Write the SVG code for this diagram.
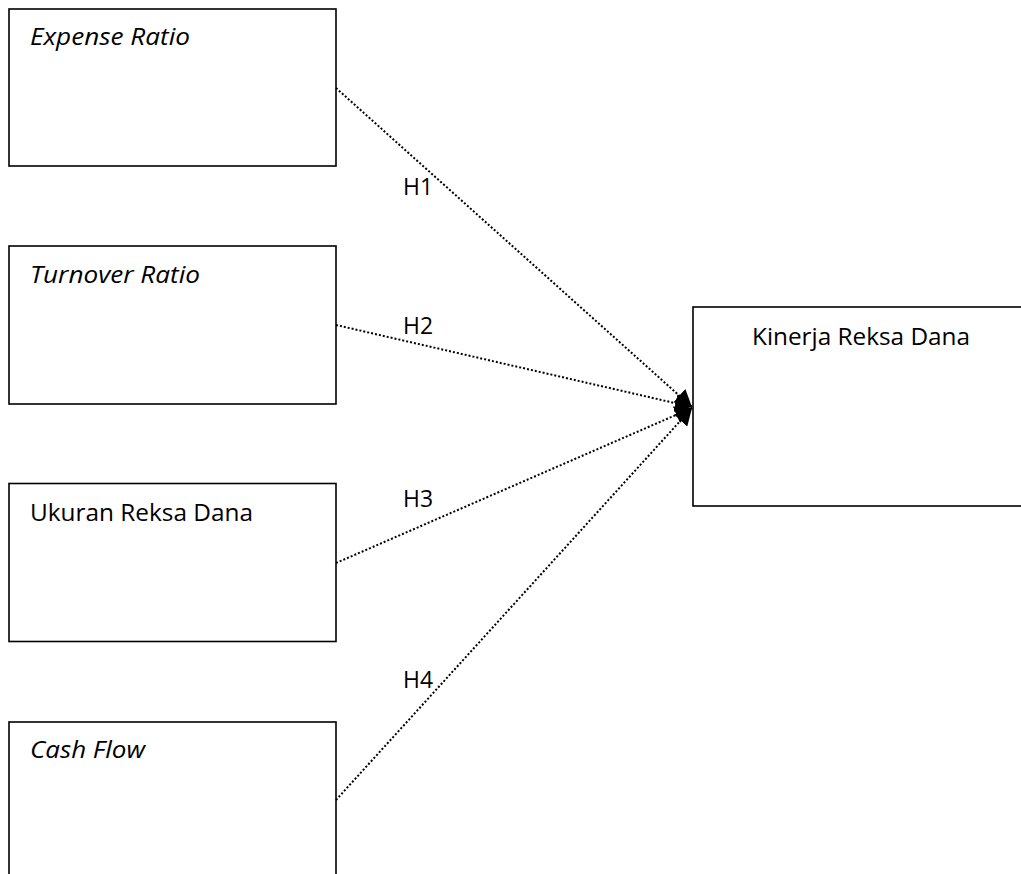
<svg xmlns="http://www.w3.org/2000/svg" width="1021" height="874" viewBox="0 0 1021 874">
<style>
.box{fill:#fff;stroke:#000;stroke-width:1.6}
.t{font-family:"Open Sans","Liberation Sans",sans-serif;font-size:24px;fill:#000}
.i{font-style:italic}
.c{fill:none;stroke:#000;stroke-width:2;stroke-dasharray:2 2}
</style>
<defs>
<marker id="ah" markerUnits="userSpaceOnUse" markerWidth="20" markerHeight="18" refX="17" refY="9" orient="auto">
<path d="M0,0 L17,9 L0,18 Z" fill="#000"/>
</marker>
</defs>
<rect width="1021" height="874" fill="#fff"/>
<g id="node-expense">
<rect class="box" x="9" y="9" width="327" height="157"/>
<text class="t i" x="30" y="45" textLength="160" lengthAdjust="spacingAndGlyphs">Expense Ratio</text>
</g>
<g id="node-turnover">
<rect class="box" x="9" y="246" width="327" height="158"/>
<text class="t i" x="30" y="283" textLength="170" lengthAdjust="spacingAndGlyphs">Turnover Ratio</text>
</g>
<g id="node-ukuran">
<rect class="box" x="9" y="483.5" width="327" height="158"/>
<text class="t" x="30" y="521" textLength="223" lengthAdjust="spacingAndGlyphs">Ukuran Reksa Dana</text>
</g>
<g id="node-cashflow">
<rect class="box" x="9" y="722" width="327" height="200"/>
<text class="t i" x="30" y="758" textLength="115" lengthAdjust="spacingAndGlyphs">Cash Flow</text>
</g>
<g id="node-kinerja">
<rect class="box" x="693" y="307" width="340" height="199"/>
<text class="t" x="752" y="345" textLength="218" lengthAdjust="spacingAndGlyphs">Kinerja Reksa Dana</text>
</g>
<g id="connectors">
<line class="c" x1="336" y1="88" x2="692" y2="407" marker-end="url(#ah)"/>
<line class="c" x1="336" y1="325" x2="692" y2="407" marker-end="url(#ah)"/>
<line class="c" x1="336" y1="563" x2="692" y2="408" marker-end="url(#ah)"/>
<line class="c" x1="336" y1="800" x2="692" y2="408" marker-end="url(#ah)"/>
<text class="t" x="403" y="195" textLength="30" lengthAdjust="spacingAndGlyphs">H1</text>
<text class="t" x="403" y="334" textLength="30" lengthAdjust="spacingAndGlyphs">H2</text>
<text class="t" x="403" y="507" textLength="30" lengthAdjust="spacingAndGlyphs">H3</text>
<text class="t" x="403" y="688" textLength="30" lengthAdjust="spacingAndGlyphs">H4</text>
</g>
</svg>
